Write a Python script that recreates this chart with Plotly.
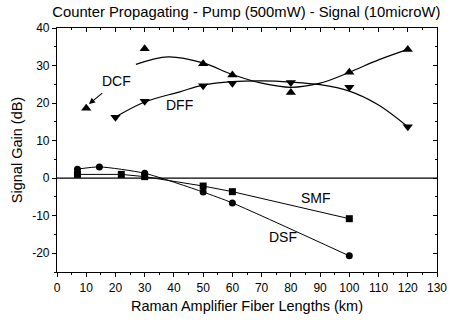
import plotly.graph_objects as go

# ---- data ----
dcf_x = [10, 30, 50, 60, 80, 100, 120]
dcf_y = [18.6, 34.5, 30.5, 27.5, 22.8, 28.2, 34.3]
dff_x = [20, 30, 50, 60, 80, 100, 120]
dff_y = [16.2, 20.5, 24.6, 25.3, 25.5, 24.2, 13.7]
dsf_x = [7, 14.5, 30, 50, 60, 100]
dsf_y = [2.4, 3.0, 1.3, -3.7, -6.6, -20.7]
smf_x = [7, 22, 30, 50, 60, 100]
smf_y = [1.0, 1.0, 0.4, -2.1, -3.6, -10.8]
# smoothed trend curves
dcf_fit_x = [27, 38, 50, 60, 70, 80, 90, 100, 110, 120]
dcf_fit_y = [30.3, 32.3, 30.7, 27.6, 25.3, 24.2, 25.3, 28.2, 31.5, 34.3]
dff_fit_x = [20, 30, 42, 50, 60, 70, 80, 90, 100, 110, 120]
dff_fit_y = [16.3, 20.3, 23.0, 24.8, 25.7, 25.9, 25.6, 24.9, 23.2, 19.5, 13.7]

xticks = list(range(0, 131, 10))
yticks = [-20, -10, 0, 10, 20, 30, 40]
ytick_labels = ["-20", "-10", "0", "10", "20", "30", "40"]

FONT = "Liberation Sans, Arial, sans-serif"
BLK = "black"

fig = go.Figure()
fig.add_trace(go.Scatter(x=dcf_fit_x, y=dcf_fit_y, mode="lines", line=dict(color=BLK, width=1.2, shape="spline", smoothing=1.0), showlegend=False, hoverinfo="skip"))
fig.add_trace(go.Scatter(x=dff_fit_x, y=dff_fit_y, mode="lines", line=dict(color=BLK, width=1.2, shape="spline", smoothing=1.0), showlegend=False, hoverinfo="skip"))
fig.add_trace(go.Scatter(x=dcf_x, y=dcf_y, mode="markers", marker=dict(symbol="triangle-up", size=9, color=BLK), name="DCF", showlegend=False))
fig.add_trace(go.Scatter(x=dff_x, y=dff_y, mode="markers", marker=dict(symbol="triangle-down", size=9, color=BLK), name="DFF", showlegend=False))
fig.add_trace(go.Scatter(x=smf_x, y=smf_y, mode="lines+markers", line=dict(color=BLK, width=1), marker=dict(symbol="square", size=7, color=BLK), name="SMF", showlegend=False))
fig.add_trace(go.Scatter(x=dsf_x, y=dsf_y, mode="lines+markers", line=dict(color=BLK, width=1, shape="spline", smoothing=0.6), marker=dict(symbol="circle", size=7, color=BLK), name="DSF", showlegend=False))
# dummy trace to instantiate the mirrored top/right axes
fig.add_trace(go.Scatter(x=[], y=[], xaxis="x2", yaxis="y2", showlegend=False))

fig.add_hline(y=0, line=dict(color=BLK, width=1.2))

ann_font = dict(family=FONT, size=14, color=BLK)
fig.add_annotation(x=20.3, y=25.9, text="DCF", showarrow=False, font=ann_font)
fig.add_annotation(x=42, y=19.5, text="DFF", showarrow=False, font=ann_font)
fig.add_annotation(x=88.5, y=-5.4, text="SMF", showarrow=False, font=ann_font)
fig.add_annotation(x=77.3, y=-15.8, text="DSF", showarrow=False, font=ann_font)
fig.add_annotation(x=10.4, y=19.4, ax=16.0, ay=23.0, axref="x", ayref="y", text="", showarrow=True,
                   arrowhead=2, arrowsize=1.1, arrowwidth=1.1, arrowcolor=BLK, standoff=2)

axis_common = dict(showline=True, linecolor=BLK, linewidth=1.2, showgrid=False, zeroline=False,
                   tickcolor=BLK, tickwidth=1, automargin=False)
tick_font = dict(family=FONT, size=12, color=BLK)
title_font = dict(family=FONT, size=14.5, color=BLK)

fig.update_layout(
    width=452, height=322,
    margin=dict(l=57, r=15, t=28, b=50),
    paper_bgcolor="white", plot_bgcolor="white",
    title=dict(text="Counter Propagating - Pump (500mW) - Signal (10microW)", x=0.545, xanchor="center",
               y=0.962, yanchor="middle", font=dict(family=FONT, size=14.8, color=BLK)),
    xaxis=dict(range=[0, 130], tickvals=xticks, ticks="outside", ticklen=4, tickfont=tick_font,
               minor=dict(dtick=5, tick0=0, ticks="outside", ticklen=2, tickcolor=BLK),
               title=dict(text="Raman Amplifier Fiber Lengths (km)", font=title_font, standoff=7),
               **axis_common),
    yaxis=dict(range=[-25, 40], tickvals=yticks, ticktext=ytick_labels, ticks="outside", ticklen=4, tickfont=tick_font,
               minor=dict(dtick=5, tick0=0, ticks="outside", ticklen=2, tickcolor=BLK),
               title=dict(text="Signal Gain (dB)", font=title_font, standoff=6),
               **axis_common),
    xaxis2=dict(range=[0, 130], overlaying="x", side="top", anchor="y2", tickvals=xticks, ticks="inside", ticklen=4,
                minor=dict(dtick=5, tick0=0, ticks="inside", ticklen=2, tickcolor=BLK),
                showticklabels=False, **axis_common),
    yaxis2=dict(range=[-25, 40], overlaying="y", side="right", anchor="x2", tickvals=yticks, ticks="inside", ticklen=4,
                minor=dict(dtick=5, tick0=0, ticks="inside", ticklen=2, tickcolor=BLK),
                showticklabels=False, **axis_common),
)

fig.write_html("out.html")
